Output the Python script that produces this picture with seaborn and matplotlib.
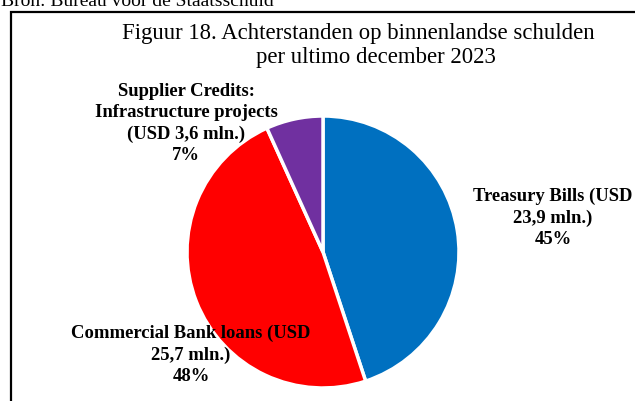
import matplotlib
matplotlib.use("Agg")
import matplotlib.pyplot as plt
import seaborn as sns
from matplotlib.patches import Rectangle

sns.set_theme(style="white")
plt.rcParams["font.family"] = ["Liberation Serif", "DejaVu Serif"]

# Arrears on domestic debt, end of December 2023 (USD mln.)
categories = ["Treasury Bills", "Commercial Bank loans", "Supplier Credits: Infrastructure projects"]
values = [23.9, 25.7, 3.6]
labels = [
    "Treasury Bills (USD\n23,9 mln.)\n45%",
    "Commercial Bank loans (USD\n25,7 mln.)\n48%",
    "Supplier Credits:\nInfrastructure projects\n(USD 3,6 mln.)\n7%",
]
colors = ["#0070C0", "#FF0000", "#7030A0"]

W, H = 635, 402
fig = plt.figure(figsize=(W / 100, H / 100), dpi=100)
fig.patch.set_facecolor("white")

# frame around the chart area
fig.add_artist(Rectangle((10.5 / W, -0.2), 1.2, (H - 13) / H + 0.2,
                         transform=fig.transFigure, fill=False,
                         edgecolor="black", linewidth=1.6))

fig.text(1 / W, 1 - 6 / H, "Bron: Bureau voor de Staatsschuld",
         fontsize=14, ha="left", va="baseline", color="black")

fig.text(358 / W, 1 - 33 / H, "Figuur 18. Achterstanden op binnenlandse schulden",
         fontsize=16.4, ha="center", va="center", color="black")
fig.text(376 / W, 1 - 58 / H, "per ultimo december 2023",
         fontsize=16.4, ha="center", va="center", color="black")

cx, cy, r = 323, 253, 136
ax = fig.add_axes([(cx - r) / W, (H - cy - r) / H, 2 * r / W, 2 * r / H])
ax.pie(values, colors=colors, startangle=90, counterclock=False, radius=1,
       wedgeprops=dict(edgecolor="white", linewidth=2.5))
ax.set_xlim(-1, 1)
ax.set_ylim(-1, 1)
ax.set_aspect("auto")
ax.axis("off")

def to_data(px, py):
    return (px - cx) / r, (cy - py) / r

label_pos = [(553, 218), (191, 355), (186, 123.5)]
for text, (px, py) in zip(labels, label_pos):
    x, y = to_data(px, py)
    ax.text(x, y, text, ha="center", va="center", fontsize=13.4,
            fontweight="bold", linespacing=1.32, clip_on=False, color="black")

fig.savefig("out.png", dpi=100)
